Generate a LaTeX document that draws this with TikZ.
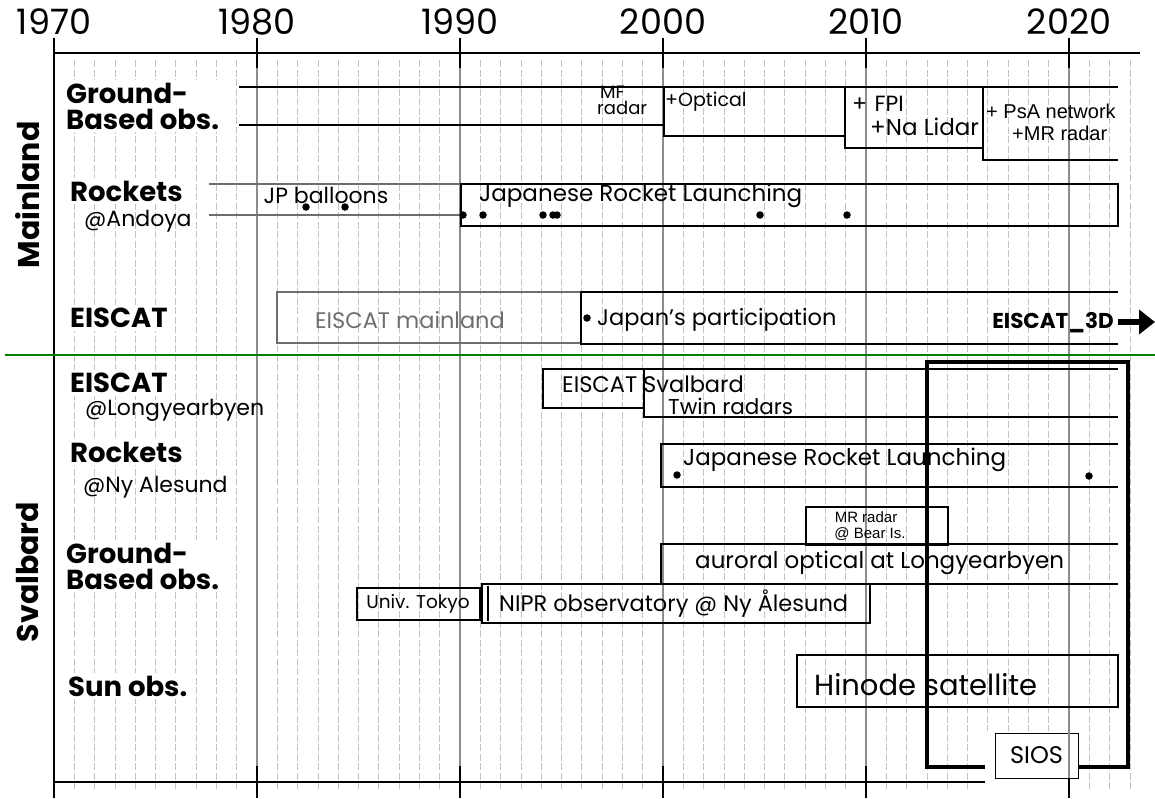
\documentclass[tikz,border=0pt]{standalone}
\usepackage{fontspec}
\setmainfont{Poppins}
\newfontfamily\arialf{Liberation Sans}
\usetikzlibrary{arrows.meta}
\definecolor{majgray}{RGB}{140,140,140}
\definecolor{mingray}{RGB}{195,195,195}
\definecolor{boxgray}{RGB}{110,110,110}
\definecolor{sepgreen}{RGB}{0,128,0}
\begin{document}
\begin{tikzpicture}[x=1pt,y=-1pt,
  reg/.style={inner sep=0pt,font=\fontsize{#1}{#1}\selectfont},
  ari/.style={inner sep=0pt,font=\arialf\fontsize{#1}{#1}\selectfont},
  lab/.style={inner sep=3pt,fill=white,anchor=west,align=left,font=\fontsize{27.5}{26}\selectfont\bfseries},
  side/.style={inner sep=0pt,rotate=90,font=\fontsize{30}{30}\selectfont\bfseries},
  yearlbl/.style={inner sep=0pt,font=\fontsize{35}{35}\selectfont},
  bx/.style={line width=1.8pt,black},
  gbx/.style={line width=1.8pt,boxgray},
  sios/.style={line width=3.4pt,black},
  dot/.style={fill=black,circle,inner sep=0pt,minimum size=7.5pt},
  minor/.style={mingray,line width=0.7pt,dash pattern=on 7pt off 2.5pt},
  major/.style={majgray,line width=1.1pt},
  tick/.style={black,line width=1.4pt}
]
\useasboundingbox (0,0) rectangle (1155,798);
\fill[white] (0,0) rectangle (1155,798);

% minor grid
\foreach \yr in {1971,...,2023}{
  \pgfmathtruncatemacro\m{mod(\yr,10)}
  \ifnum\m=0\else
    \draw[minor] ({54+20.3*(\yr-1970)},60) -- ({54+20.3*(\yr-1970)},790);
  \fi
}
% white area behind SIOS label
\fill[white] (985,731) rectangle (1080,798);
% major grid and ticks
\foreach \yr in {1980,1990,...,2020}{
  \draw[major] ({54+20.3*(\yr-1970)},38) -- ({54+20.3*(\yr-1970)},798);
  \draw[tick] ({54+20.3*(\yr-1970)},38) -- ({54+20.3*(\yr-1970)},68);
  \draw[tick] ({54+20.3*(\yr-1970)},766) -- ({54+20.3*(\yr-1970)},798);
}
\draw[tick] (54,38) -- (54,770);
\draw[tick] (54,766) -- (54,798);
\draw[tick] (54,53) -- (1140,53);
\draw[tick] (54,782) -- (985,782);

% year labels
\foreach \yr in {1970,1980,...,2020}{
  \node[yearlbl] (y\yr) at ({54+20.3*(\yr-1970)},22) {\yr};
}

% separator
\draw[sepgreen,line width=2.6pt] (5,355) -- (1155,355);

% side labels
\node[side] (mainland) at (28,195) {Mainland};
\node[side] (svalbard) at (28,572) {Svalbard};

% row labels
\node[lab] (gbm) at (63,106) {Ground-\\Based obs.};
\node[lab] (rkm) at (67,191) {Rockets};
\node[reg=22,anchor=west] (andoya) at (84,221) {@Andoya};
\node[lab] (eism) at (67,318) {EISCAT};
\node[lab] (eiss) at (67,383) {EISCAT};
\node[reg=22,anchor=west] (lyb) at (85,410) {@Longyearbyen};
\node[lab] (rks) at (67,452) {Rockets};
\node[reg=22,anchor=west] (nya) at (83,487) {@Ny Alesund};
\node[lab] (gbs) at (63,566) {Ground-\\Based obs.};
\node[lab] (sun) at (65,686) {Sun obs.};

% ---- Mainland ground-based
\draw[bx] (239,87) -- (1118,87);
\draw[bx] (239,125) -- (664,125) -- (664,136) -- (845,136) -- (845,148) -- (983,148) -- (983,160) -- (1118,160);
\draw[bx] (664,87) -- (664,125);
\draw[bx] (845,87) -- (845,136);
\draw[bx] (983,87) -- (983,148);
\node[reg=18,anchor=south west] (mf) at (600,99) {MF};
\node[reg=18,anchor=north west] (mfr) at (597,101) {radar};
\node[reg=19,anchor=west] (opt) at (665,102) {+Optical};
\node[reg=22,anchor=west] (fpi) at (852,104) {+\,\,FPI};
\node[reg=23,anchor=west] (lidar) at (870,127) {+Na Lidar};
\node[ari=20,anchor=west] (psa) at (986,111) {+ PsA network};
\node[ari=20,anchor=west] (mrr) at (1012,133) {+MR radar};

% ---- Mainland rockets
\draw[gbx] (209,184) -- (461,184);
\draw[gbx] (209,215) -- (461,215);
\draw[bx] (461,184) rectangle (1118,226);
\node[reg=22] (jpb) at (326,195) {JP balloons};
\node[dot] (b1) at (306,207) {};
\node[dot] (b2) at (345,207) {};
\node[reg=23,anchor=west] (jrlm) at (479,196) {Japanese Rocket Launching};
\foreach \xx [count=\i] in {463,483,543,553,557,760,847}{
  \node[dot] (r\i) at (\xx,215) {};
}

% ---- Mainland EISCAT
\draw[gbx] (277,292) rectangle (581,343);
\node[reg=22.5,text=boxgray] (eml) at (410,320) {EISCAT mainland};
\draw[bx] (1118,292) -- (581,292) -- (581,344) -- (1118,344);
\node[dot] (jpd) at (587,318) {};
\node[reg=22.5,anchor=west] (jpp) at (597,320) {Japan’s participation};
\node[inner sep=0pt,anchor=east,font=\bfseries\fontsize{21.5}{21.5}\selectfont] (e3d) at (1114,323) {EISCAT\_3D};
\coordinate (arrS) at (1118,322);
\coordinate (arrE) at (1155,322);
\draw[line width=6pt,-{Triangle[length=16pt,width=24pt]}] (arrS) -- (arrE);

% ---- Svalbard EISCAT
\draw[bx] (543,369) rectangle (644,408);
\draw[bx] (1118,369) -- (644,369) -- (644,417) -- (1118,417);
\node[reg=22.5,anchor=west] (esv) at (562,384) {EISCAT Svalbard};
\node[reg=21.5,anchor=west] (twin) at (668,406) {Twin radars};

% ---- Svalbard rockets
\draw[bx] (1118,444) -- (661,444) -- (661,487) -- (1118,487);
\node[reg=23,anchor=west] (jrls) at (683,460) {Japanese Rocket Launching};
\node[dot] (s1) at (677,475) {};
\node[dot] (s2) at (1089,476) {};

% ---- Svalbard ground-based
\draw[bx] (806,507) rectangle (948,545);
\node[ari=15] (mrb1) at (866,517) {MR radar};
\node[ari=15] (mrb2) at (870,534) {@ Bear Is.};
\draw[bx] (1118,544) -- (661,544) -- (661,584) -- (1118,584);
\node[reg=23,anchor=west] (aur) at (695,563) {auroral optical at Longyearbyen};
\draw[bx] (357,588) rectangle (480,620);
\node[reg=18.5] (ut) at (418,604) {Univ. Tokyo};
\draw[bx,line width=2.2pt] (482,584) rectangle (870,623);
\draw[black,line width=1.1pt] (488,586) -- (488,621);
\node[reg=22.5,anchor=west] (nipr) at (499,604) {NIPR observatory @ Ny Ålesund};

% ---- Sun obs
\draw[bx] (797,655) rectangle (1118,707);
\node[reg=29,anchor=west] (hin) at (814,685) {Hinode satellite};

% ---- SIOS
\draw[sios] (985,767) -- (927,767) -- (927,362) -- (1128,362) -- (1128,767) -- (1078,767);
\node[draw,line width=1pt,fill=white,minimum width=83pt,minimum height=45pt,inner sep=0pt,font=\fontsize{24}{24}\selectfont] (siosbox) at (1036.5,755.5) {SIOS};
\draw[major] (1069,733) -- (1069,778);
\end{tikzpicture}
\end{document}
